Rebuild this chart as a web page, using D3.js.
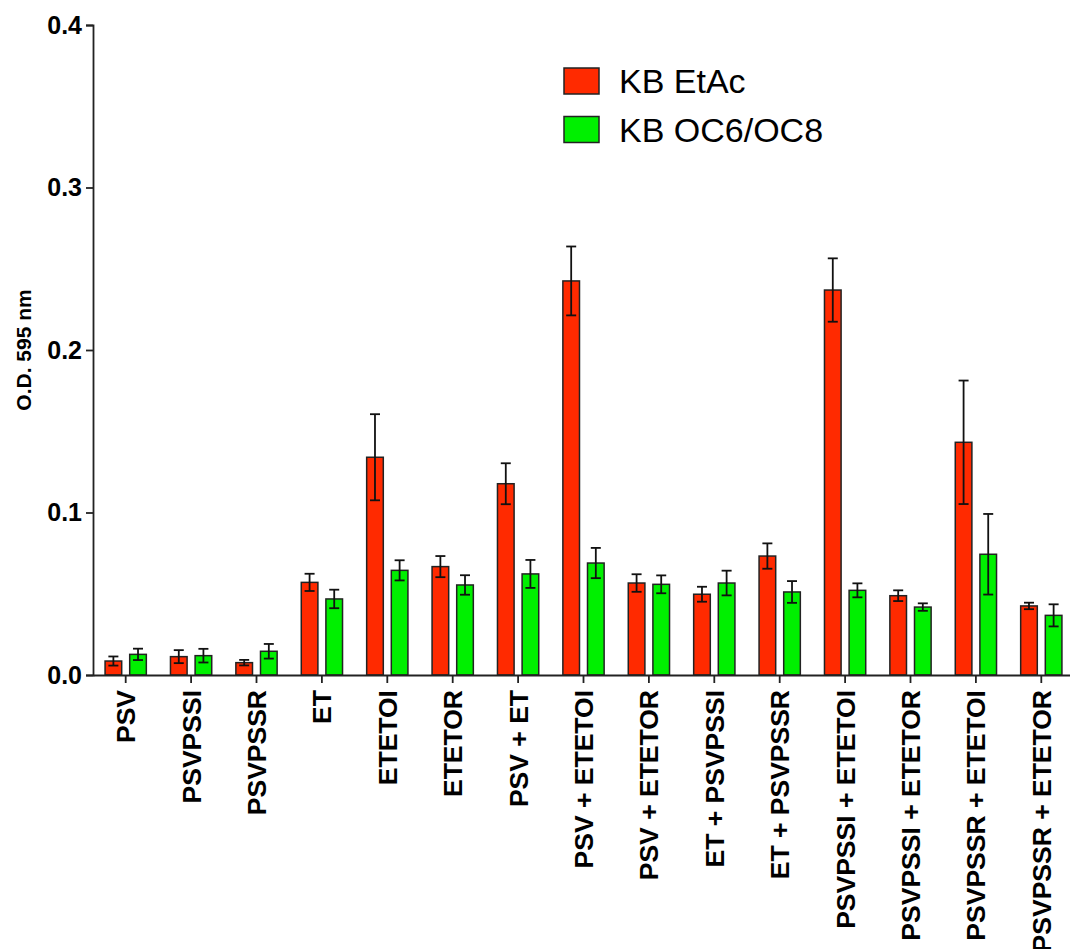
<!DOCTYPE html>
<html>
<head>
<meta charset="utf-8">
<script src="https://cdn.jsdelivr.net/npm/d3@7"></script>
<style>
  body { margin: 0; background: #fff; }
  svg { display: block; font-family: "Liberation Sans", Arial, sans-serif; }
</style>
</head>
<body>
<div id="chart"></div>
<script>
"use strict";

/* Chart data */
const categories = ["PSV", "PSVPSSI", "PSVPSSR", "ET", "ETETOI", "ETETOR", "PSV + ET",
  "PSV + ETETOI", "PSV + ETETOR", "ET + PSVPSSI", "ET + PSVPSSR", "PSVPSSI + ETETOI",
  "PSVPSSI + ETETOR", "PSVPSSR + ETETOI", "PSVPSSR + ETETOR"];
const seriesNames = ["KB EtAc", "KB OC6/OC8"];
const etacMean = [0.0086, 0.0113, 0.0076, 0.0570, 0.1340, 0.0667, 0.1177, 0.2425,
  0.0566, 0.0497, 0.0732, 0.2369, 0.0488, 0.1432, 0.0425];
const etacErr = [0.0028, 0.0040, 0.0017, 0.0053, 0.0265, 0.0065, 0.0126, 0.0212,
  0.0054, 0.0046, 0.0078, 0.0195, 0.0033, 0.0380, 0.0020];
const ocMean = [0.0127, 0.0119, 0.0146, 0.0468, 0.0644, 0.0554, 0.0622, 0.0689,
  0.0558, 0.0566, 0.0511, 0.0521, 0.0418, 0.0743, 0.0367];
const ocErr = [0.0035, 0.0042, 0.0045, 0.0057, 0.0062, 0.0060, 0.0086, 0.0093,
  0.0055, 0.0076, 0.0067, 0.0043, 0.0023, 0.0248, 0.0068];
const yTicks = [0.0, 0.1, 0.2, 0.3, 0.4];
const colors = ["#ff2a00", "#00f000"];

const width = 1070, height = 949;
const margin = {top: 25, left: 93, bottom: 675};

let svg = d3.select("#chart").append("svg")
    .attr("width", width)
    .attr("height", height);

/* Scales */
let x0 = d3.scaleBand()
    .domain(categories)
    .range([margin.left, margin.left + categories.length * 65.4]);
let x1 = d3.scaleBand()
    .domain(seriesNames)
    .range([0, x0.bandwidth()])
    .paddingInner(0.325)
    .paddingOuter(0.49);
let y = d3.scaleLinear()
    .domain([0, 0.4])
    .range([margin.bottom, margin.top]);

/* Build rows for the bars */
let rows = [];
categories.forEach(function(c, i) {
  rows.push({cat: c, series: seriesNames[0], mean: etacMean[i], err: etacErr[i], color: colors[0]});
  rows.push({cat: c, series: seriesNames[1], mean: ocMean[i], err: ocErr[i], color: colors[1]});
});

/* Bars */
svg.append("g")
    .selectAll("rect")
    .data(rows)
    .enter().append("rect")
    .attr("x", function(d) { return x0(d.cat) + x1(d.series); })
    .attr("y", function(d) { return y(d.mean); })
    .attr("width", x1.bandwidth())
    .attr("height", function(d) { return y(0) - y(d.mean); })
    .attr("fill", function(d) { return d.color; })
    .attr("stroke", "#222")
    .attr("stroke-width", 1.5);

/* Error bars */
let err = svg.append("g")
    .attr("stroke", "#111")
    .attr("stroke-width", 1.8)
    .selectAll("g")
    .data(rows)
    .enter().append("g")
    .attr("transform", function(d) {
      return "translate(" + (x0(d.cat) + x1(d.series) + x1.bandwidth() / 2) + ",0)";
    });
err.append("line")
    .attr("y1", function(d) { return y(d.mean - d.err); })
    .attr("y2", function(d) { return y(d.mean + d.err); });
err.append("line")
    .attr("x1", -5).attr("x2", 5)
    .attr("y1", function(d) { return y(d.mean + d.err); })
    .attr("y2", function(d) { return y(d.mean + d.err); });
err.append("line")
    .attr("x1", -5).attr("x2", 5)
    .attr("y1", function(d) { return y(d.mean - d.err); })
    .attr("y2", function(d) { return y(d.mean - d.err); });

/* Y axis */
let yAxis = svg.append("g")
    .attr("transform", "translate(" + margin.left + ",0)")
    .call(d3.axisLeft(y).tickValues(yTicks).tickFormat(d3.format(".1f")).tickSize(7).tickPadding(4));
yAxis.select(".domain").attr("stroke", "#222").attr("stroke-width", 1.8);
yAxis.selectAll(".tick line").attr("stroke", "#222").attr("stroke-width", 1.8);
yAxis.selectAll(".tick text")
    .attr("fill", "#000")
    .style("font-size", "25px")
    .style("font-weight", "bold")
    .style("font-family", "'Liberation Sans', Arial, sans-serif");

/* X axis */
let xAxis = svg.append("g")
    .attr("transform", "translate(0," + margin.bottom + ")")
    .call(d3.axisBottom(x0).tickSize(8).tickSizeOuter(0));
xAxis.select(".domain").attr("stroke", "#222").attr("stroke-width", 1.8);
xAxis.selectAll(".tick line").attr("stroke", "#222").attr("stroke-width", 1.8);
xAxis.selectAll(".tick text")
    .attr("fill", "#000")
    .attr("transform", "rotate(-90)")
    .attr("text-anchor", "end")
    .attr("x", -15)
    .attr("y", 0)
    .attr("dy", "0.36em")
    .style("font-size", "26.5px")
    .style("font-weight", "bold")
    .style("font-family", "'Liberation Sans', Arial, sans-serif");

/* Y axis title */
svg.append("text")
    .attr("transform", "translate(31,350) rotate(-90)")
    .attr("text-anchor", "middle")
    .style("font-size", "21px")
    .style("font-weight", "bold")
    .text("O.D. 595 nm");

/* Legend */
let legend = svg.append("g")
    .selectAll("g")
    .data(seriesNames)
    .enter().append("g")
    .attr("transform", function(d, i) { return "translate(564," + (68 + i * 48.5) + ")"; });
legend.append("rect")
    .attr("width", 35)
    .attr("height", 26)
    .attr("fill", function(d, i) { return colors[i]; })
    .attr("stroke", "#222")
    .attr("stroke-width", 1.5);
legend.append("text")
    .attr("x", 55)
    .attr("y", 25)
    .style("font-size", "34px")
    .text(function(d) { return d; });
</script>
</body>
</html>
